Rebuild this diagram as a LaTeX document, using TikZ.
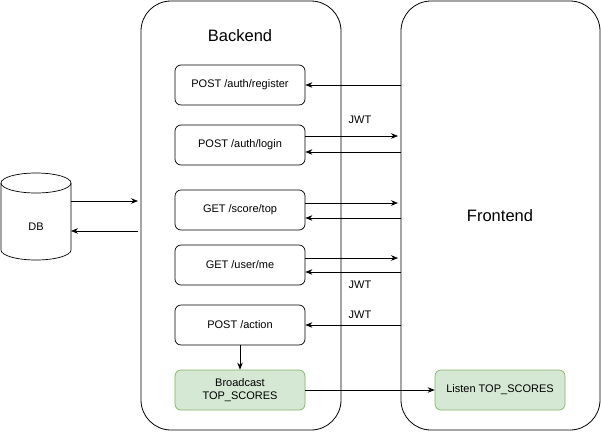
\documentclass[tikz,border=0pt]{standalone}
\usepackage{fontspec}
\setmainfont{Liberation Sans}
\usetikzlibrary{arrows.meta}
\begin{document}
\begin{tikzpicture}[x=1pt,y=-1pt,
  container/.style={draw,rounded corners=30pt,line width=0.8pt},
  apibox/.style={draw,rounded corners=6pt,minimum width=130pt,minimum height=40pt,font=\fontsize{11}{13}\selectfont,align=center,line width=0.7pt},
  greenbox/.style={apibox,draw={rgb,255:red,130;green,179;blue,102},fill={rgb,255:red,213;green,232;blue,212}},
  conn/.style={-{Stealth[length=7pt,width=5.5pt]},line width=0.7pt},
  lbl/.style={font=\fontsize{11}{13}\selectfont}]
\useasboundingbox (0,0) rectangle (601,431);
\draw[container] (141,1) rectangle (341,430);
\draw[container] (401,1) rectangle (600,430);
\node[font=\fontsize{16.5}{19}\selectfont] (be) at (240,36) {Backend};
\node[font=\fontsize{16.5}{19}\selectfont] (fe) at (500,216) {Frontend};
\coordinate (feL) at (401,216);
\coordinate (beL) at (141,216);
\node[apibox] (reg) at (240,85) {POST /auth/register};
\node[apibox] (login) at (240,145) {POST /auth/login};
\node[apibox] (top) at (240,210) {GET /score/top};
\node[apibox] (me) at (240,265) {GET /user/me};
\node[apibox] (act) at (240,325) {POST /action};
\node[greenbox] (bc) at (240,390) {Broadcast\\TOP\_SCORES};
\node[greenbox] (ls) at (500,390) {Listen TOP\_SCORES};
% DB cylinder
\draw[line width=0.7pt] (1,183) -- (1,250) arc[start angle=180,end angle=360,x radius=35,y radius=-10] -- (71,183);
\draw[line width=0.7pt] (36,183) ellipse[x radius=35,y radius=10];
\node[lbl] (db) at (36,227) {DB};
\coordinate (dbE) at (71,216);
% arrows
\draw[conn] (dbE |- 0,201) -- (138,201);
\draw[conn] (138,231) -- (dbE |- 0,231);
\draw[conn] (feL |- 0,85) -- (reg.east |- 0,85);
\draw[conn] (login.east |- 0,136) -- (398,136);
\node[lbl] at (360,120) {JWT};
\draw[conn] (feL |- 0,152) -- (login.east |- 0,152);
\draw[conn] (top.east |- 0,203) -- (398,203);
\draw[conn] (feL |- 0,218) -- (top.east |- 0,218);
\draw[conn] (me.east |- 0,258) -- (398,258);
\draw[conn] (feL |- 0,272) -- (me.east |- 0,272);
\node[lbl] at (360,285) {JWT};
\draw[conn] (feL |- 0,325) -- (act.east);
\node[lbl] at (360,315) {JWT};
\draw[conn] (act.south) -- (bc.north);
\draw[conn] (bc.east) -- (ls.west);
\end{tikzpicture}
\end{document}
